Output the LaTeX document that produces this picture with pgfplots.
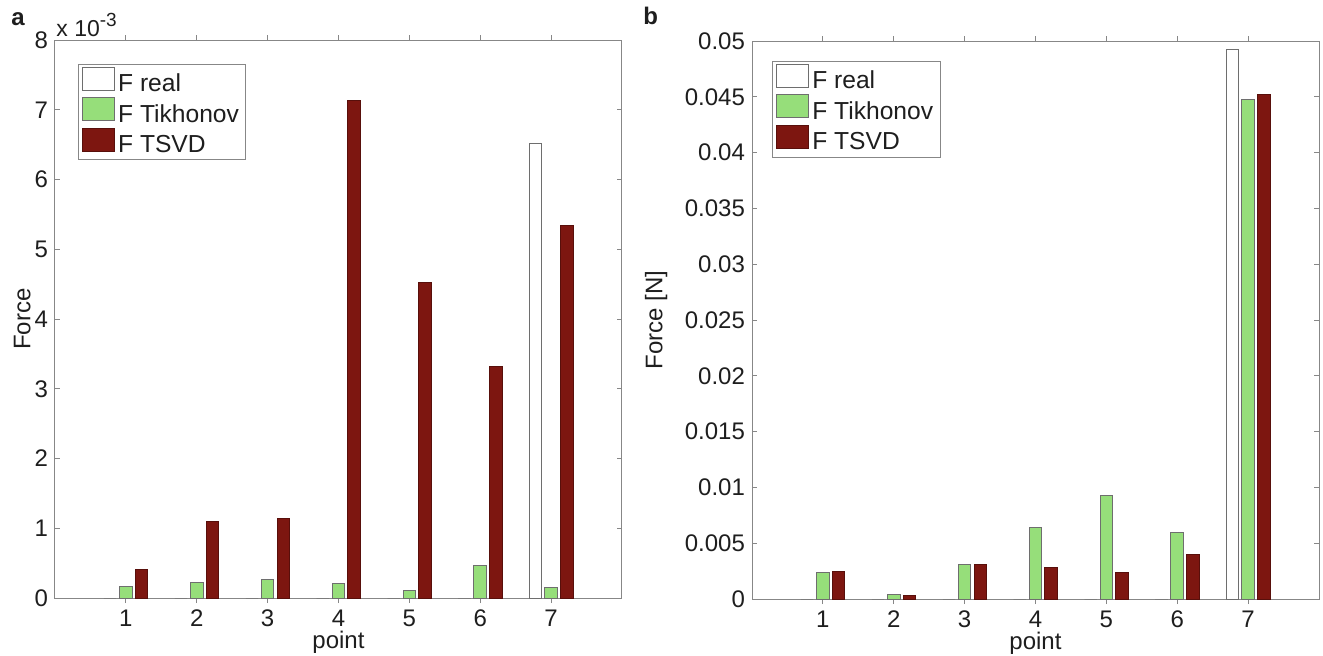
\documentclass[border=0pt]{standalone}
\usepackage{pgfplots}
\pgfplotsset{compat=1.18}
\usepackage{fontspec}
\setmainfont{Liberation Sans}
\definecolor{axgray}{RGB}{135,135,135}
\definecolor{txt}{RGB}{30,30,30}
\definecolor{fgreen}{RGB}{150,222,122}
\definecolor{fred}{RGB}{125,22,16}
\definecolor{edge}{RGB}{110,110,110}
\pgfplotsset{
  mystyle/.style={
    scale only axis, width=283.5pt, height=279pt,
    xmin=0, xmax=8, ymin=0,
    xtick={1,2,3,4,5,6,7},
    tick align=inside, major tick length=2.5pt,
    axis line style={axgray, line width=0.5pt},
    every tick/.style={axgray, line width=0.5pt},
    tick label style={font=\fontsize{12}{14}\selectfont, text=txt},
    /pgf/number format/assume math mode=true,
    label style={font=\fontsize{12}{14}\selectfont, text=txt},
    xlabel={point},
    xlabel style={at={(axis description cs:0.5,-0.079)}, anchor=center},
    ybar, bar width=0.178,
    legend cell align=left,
    legend image code/.code={\draw[#1, line width=0.5pt] (0pt,-3pt) rectangle (16pt,8.5pt);},
    legend style={draw=axgray, line width=0.5pt, font=\fontsize{12.3}{14}\selectfont, text=txt,
      anchor=north west, inner xsep=2pt, inner ysep=1.2pt, row sep=0pt,
      nodes={inner xsep=1.5pt, inner ysep=1.2pt}},
  }
}
\begin{document}
\begin{tikzpicture}
\path[use as bounding box] (0,0) rectangle (661.5pt,327.5pt);
\node[anchor=base west, inner sep=0pt, text=txt, font=\bfseries\fontsize{12}{14}\selectfont] at (5.5pt,314.5pt) {a};
\node[anchor=base west, inner sep=0pt, text=txt, font=\bfseries\fontsize{12}{14}\selectfont] at (321.5pt,315pt) {b};
% Panel a
\begin{axis}[mystyle, at={(27.5pt,28.5pt)}, anchor=south west,
  ymax=0.008, clip=false,
  ytick={0,0.001,0.002,0.003,0.004,0.005,0.006,0.007,0.008},
  scaled y ticks=base 10:3,
  ytick scale label code/.code={},
  ylabel={Force},
  ylabel style={at={(axis description cs:-0.058,0.5)}, anchor=center},
  legend style={at={(axis description cs:0.04,0.957)}},
]
\addplot[fill=white, draw=edge, line width=0.5pt, bar shift=-0.222] coordinates {(1,0) (2,0) (3,0) (4,0) (5,0) (6,0) (7,0.00652)};
\addplot[fill=fgreen, draw=edge, line width=0.5pt, bar shift=0] coordinates {(1,0.00016) (2,0.00022) (3,0.00026) (4,0.00021) (5,0.000105) (6,0.00047) (7,0.00015)};
\addplot[fill=fred, draw=fred!70!black, line width=0.5pt, bar shift=0.222] coordinates {(1,0.00041) (2,0.00109) (3,0.00114) (4,0.00714) (5,0.00452) (6,0.00332) (7,0.00534)};
\legend{F real, F Tikhonov, F TSVD}
\node[anchor=base west, inner sep=0pt, text=txt, font=\fontsize{11.5}{13}\selectfont, xshift=0.5pt, yshift=2pt] at (rel axis cs:0,1) {x 10\raisebox{5pt}{\fontsize{9.5}{11}\selectfont -3}};
\end{axis}
% Panel b
\begin{axis}[mystyle, at={(376pt,28pt)}, anchor=south west,
  ymax=0.05,
  ytick={0,0.005,0.01,0.015,0.02,0.025,0.03,0.035,0.04,0.045,0.05},
  scaled y ticks=false,
  yticklabel style={/pgf/number format/fixed, /pgf/number format/precision=3},
  ylabel={Force [N]},
  ylabel style={at={(axis description cs:-0.169,0.5)}, anchor=center},
  legend style={at={(axis description cs:0.035,0.964)}},
]
\addplot[fill=white, draw=edge, line width=0.5pt, bar shift=-0.222] coordinates {(1,0) (2,0) (3,0) (4,0) (5,0) (6,0) (7,0.0492)};
\addplot[fill=fgreen, draw=edge, line width=0.5pt, bar shift=0] coordinates {(1,0.00239) (2,0.00042) (3,0.00313) (4,0.0064) (5,0.00924) (6,0.0060) (7,0.04472)};
\addplot[fill=fred, draw=fred!70!black, line width=0.5pt, bar shift=0.222] coordinates {(1,0.00244) (2,0.0003) (3,0.00307) (4,0.00283) (5,0.00239) (6,0.00396) (7,0.0452)};
\legend{F real, F Tikhonov, F TSVD}
\end{axis}
\end{tikzpicture}
\end{document}
